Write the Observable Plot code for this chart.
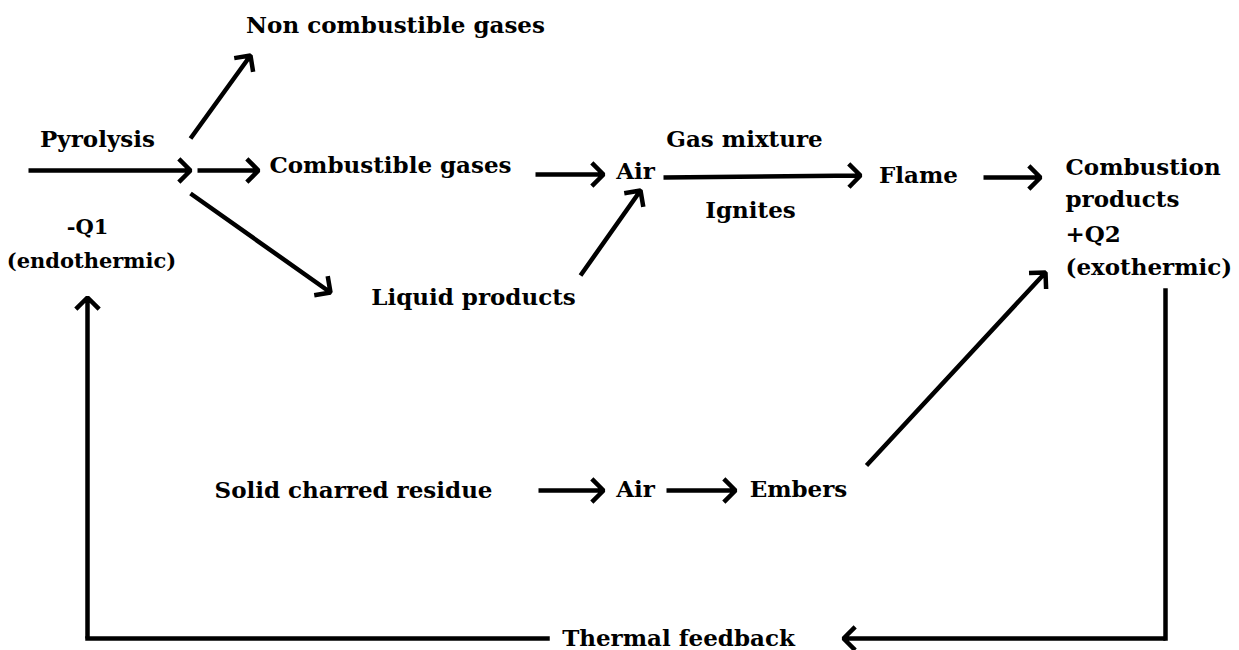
<!DOCTYPE html>
<html>
<head>
<meta charset="utf-8">
<script src="https://cdn.jsdelivr.net/npm/d3@7"></script>
<script src="https://cdn.jsdelivr.net/npm/@observablehq/plot@0.6"></script>
<style>
  html, body { margin: 0; padding: 0; background: #fff; }
</style>
</head>
<body>
<div id="chart"></div>
<script>
// Node labels (centre positions in diagram units = pixels of the 1239x650 canvas)
const labels = ["Non combustible gases", "Pyrolysis", "Combustible gases", "Air", "Gas mixture", "Ignites",
  "Flame", "Liquid products", "Solid charred residue", "Air", "Embers", "Thermal feedback"];
const labelX = [395, 97, 390, 635, 744, 750, 918, 473, 353, 635, 798, 678];
const labelY = [25, 139, 165, 171, 139, 210, 175, 297, 490, 489, 489, 638];

// Heat-absorption note under "Pyrolysis"
const q1Lines = ["-Q1", "(endothermic)"];
const q1X = [87, 91];
const q1Y = [227, 261];

// Left-aligned multi-line block
const blockLines = ["Combustion", "products", "+Q2", "(exothermic)"];
const blockX = [1065, 1065, 1065, 1065];
const blockY = [167, 199, 234, 267];

// Arrows with heads
const arrowX1 = [28, 197, 190, 190, 535, 580, 663, 983, 866, 538, 666, 1165, 87];
const arrowY1 = [170, 170, 138, 193, 174, 275, 177, 177, 465, 490, 490, 638, 638];
const arrowX2 = [190, 258, 250, 330, 603, 640, 860, 1040, 1045, 603, 735, 843, 87];
const arrowY2 = [170, 170, 55, 292, 174, 190, 175, 177, 272, 490, 490, 638, 297];

// Plain segments (feedback loop)
const segX1 = [1165, 547];
const segY1 = [290, 638];
const segX2 = [1165, 87];
const segY2 = [638, 638];

const textData = labels.map((t, i) => ({t, x: labelX[i], y: labelY[i]}));
const q1Data = q1Lines.map((t, i) => ({t, x: q1X[i], y: q1Y[i]}));
const blockData = blockLines.map((t, i) => ({t, x: blockX[i], y: blockY[i]}));
const arrowData = arrowX1.map((_, i) => ({x1: arrowX1[i], y1: arrowY1[i], x2: arrowX2[i], y2: arrowY2[i]}));
const segData = segX1.map((_, i) => ({x1: segX1[i], y1: segY1[i], x2: segX2[i], y2: segY2[i]}));

const chart = Plot.plot({
  width: 1239,
  height: 650,
  margin: 0,
  x: {domain: [0, 1239], axis: null},
  y: {domain: [0, 650], reverse: true, axis: null},
  style: {fontFamily: "'DejaVu Serif', serif", background: "#fff"},
  marks: [
    Plot.link(segData, {x1: "x1", y1: "y1", x2: "x2", y2: "y2", stroke: "#000", strokeWidth: 4.5, strokeLinecap: "square"}),
    Plot.arrow(arrowData, {x1: "x1", y1: "y1", x2: "x2", y2: "y2", stroke: "#000", strokeWidth: 4.5,
      headLength: 5.5, headAngle: 90, strokeLinecap: "butt"}),
    Plot.text(textData, {x: "x", y: "y", text: "t", fontSize: 23, fontWeight: "bold", fill: "#000"}),
    Plot.text(q1Data, {x: "x", y: "y", text: "t", fontSize: 21, fontWeight: "bold", fill: "#000"}),
    Plot.text(blockData, {x: "x", y: "y", text: "t", fontSize: 23, fontWeight: "bold", fill: "#000", textAnchor: "start"})
  ]
});
document.getElementById("chart").appendChild(chart);
</script>
</body>
</html>
